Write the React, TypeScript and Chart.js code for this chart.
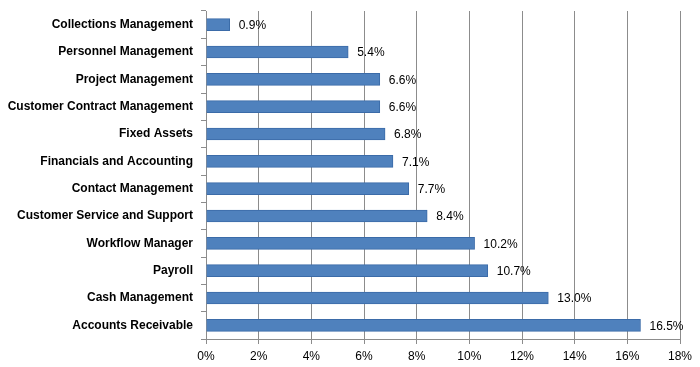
import React, { useEffect, useRef } from "react";
import { Chart, registerables } from "chart.js";

Chart.register(...registerables);

const categories = [
  "Collections Management",
  "Personnel Management",
  "Project Management",
  "Customer Contract Management",
  "Fixed Assets",
  "Financials and Accounting",
  "Contact Management",
  "Customer Service and Support",
  "Workflow Manager",
  "Payroll",
  "Cash Management",
  "Accounts Receivable",
];

const values = [0.9, 5.4, 6.6, 6.6, 6.8, 7.1, 7.7, 8.4, 10.2, 10.7, 13.0, 16.5];

const xMin = 0;
const xMax = 18;
const xStep = 2;

const FONT = "'Liberation Sans', Arial, sans-serif";

const dataLabelPlugin = {
  id: "dataLabels",
  afterDatasetsDraw(chart: any) {
    const ctx = chart.ctx;
    const meta = chart.getDatasetMeta(0);
    ctx.save();
    ctx.font = `12px ${FONT}`;
    ctx.fillStyle = "#000";
    ctx.textAlign = "left";
    ctx.textBaseline = "middle";
    meta.data.forEach((bar: any, i: number) => {
      const v = values[i];
      ctx.fillText(v.toFixed(1) + "%", bar.x + 9, bar.y + 1);
    });
    ctx.restore();
  },
};

export default function App() {
  const ref = useRef<HTMLCanvasElement>(null);
  useEffect(() => {
    document.body.style.margin = "0";
    const chart = new Chart(ref.current!, {
      type: "bar",
      data: {
        labels: categories,
        datasets: [
          {
            data: values,
            backgroundColor: "#4F81BD",
            borderColor: "#3B6BA8",
            borderWidth: 1,
            barThickness: 12,
          },
        ],
      },
      options: {
        indexAxis: "y",
        animation: false,
        responsive: false,
        maintainAspectRatio: false,
        layout: { padding: { top: 11, right: 20, bottom: 0, left: 0 } },
        plugins: {
          legend: { display: false },
          tooltip: { enabled: false },
        },
        scales: {
          x: {
            min: xMin,
            max: xMax,
            afterFit: (scale: any) => {
              scale.height = 28;
            },
            ticks: {
              stepSize: xStep,
              callback: (v: any) => v + "%",
              color: "#000",
              font: { family: FONT, size: 12 },
              padding: 5,
            },
            grid: {
              color: "#8C8C8C",
              tickLength: 5,
              tickColor: "#8C8C8C",
            },
            border: { display: true, color: "#8C8C8C" },
          },
          y: {
            afterFit: (scale: any) => {
              scale.width = 206;
              scale.paddingTop = 0;
              scale.paddingBottom = 0;
            },
            ticks: {
              color: "#000",
              font: { family: FONT, size: 12, weight: "bold" },
              padding: 8,
            },
            grid: {
              drawOnChartArea: false,
              drawTicks: true,
              tickLength: 5,
              color: "#8C8C8C",
              offset: true,
            },
            border: { display: true, color: "#8C8C8C" },
          },
        },
      },
      plugins: [dataLabelPlugin],
    });
    return () => chart.destroy();
  }, []);
  return <canvas ref={ref} width={700} height={367} style={{ display: "block" }} />;
}
